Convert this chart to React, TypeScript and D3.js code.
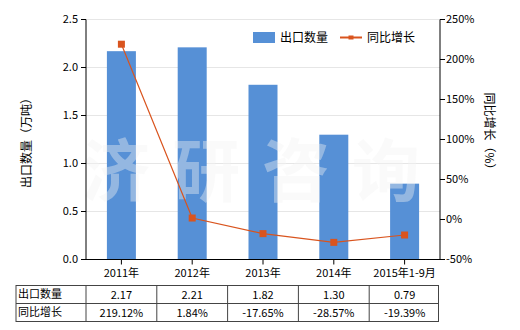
import React from "react";
import * as d3 from "d3";

const categories = ["2011年", "2012年", "2013年", "2014年", "2015年1-9月"];
const exportQty = [2.17, 2.21, 1.82, 1.3, 0.79];
const yoyGrowth = [219.12, 1.84, -17.65, -28.57, -19.39];
const qtyLabels = ["2.17", "2.21", "1.82", "1.30", "0.79"];
const growthLabels = ["219.12%", "1.84%", "-17.65%", "-28.57%", "-19.39%"];
const leftTicks = [0, 0.5, 1.0, 1.5, 2.0, 2.5];
const rightTicks = [-50, 0, 50, 100, 150, 200, 250];

const W = 520, H = 330;
const PL = 86, PR = 440, PT = 19.5, PB = 259.5;
const FONT = "'Microsoft YaHei', 'Noto Sans CJK SC', 'DejaVu Sans', sans-serif";
const BAR = "#5690D6";
const LINE = "#D9541E";

export default function App() {
  const x = d3.scaleBand<string>().domain(categories).range([PL, PR]).paddingInner(0).paddingOuter(0);
  const yL = d3.scaleLinear().domain([0, 2.5]).range([PB, PT]);
  const yR = d3.scaleLinear().domain([-50, 250]).range([PB, PT]);
  const bw = 29;
  const cx = (c: string) => (x(c) as number) + x.bandwidth() / 2;
  const line = d3.line<number>().x((_, i) => cx(categories[i])).y((d) => yR(d));

  const tableTop = 285.5, rowH = 18, tableLeft = 16, firstCol = PL;
  const colEdges = categories.map((c) => x(c) as number);

  return (
    <svg width={W} height={H} style={{ position: "absolute", left: 0, top: 0, fontFamily: FONT }}>
      <rect width={W} height={H} fill="#fff" />
      {leftTicks.map((t) => (
        <line key={t} x1={PL} x2={PR} y1={yL(t)} y2={yL(t)} stroke="#e6e6e6" strokeWidth={1} />
      ))}
      {exportQty.map((v, i) => (
        <rect key={i} x={cx(categories[i]) - bw / 2} y={yL(v)} width={bw} height={PB - yL(v)} fill={BAR} />
      ))}
      <text x={262} y={196} textAnchor="middle" fontSize={68} fontWeight="bold" fill="#f2f2f2" fillOpacity={0.4} letterSpacing={22}>济研咨询</text>
      <path d={line(yoyGrowth) as string} fill="none" stroke={LINE} strokeWidth={1.2} />
      {yoyGrowth.map((v, i) => (
        <rect key={i} x={cx(categories[i]) - 3.5} y={yR(v) - 3.5} width={7} height={7} fill={LINE} />
      ))}
      {/* left axis */}
      <line x1={PL} x2={PL} y1={PT} y2={PB} stroke="#000" />
      {leftTicks.map((t) => (
        <g key={t}>
          <line x1={PL - 5} x2={PL} y1={yL(t)} y2={yL(t)} stroke="#000" />
          <text x={PL - 8} y={yL(t)} dy="0.35em" textAnchor="end" fontSize={11} fill="#000">{t.toFixed(1)}</text>
        </g>
      ))}
      {/* right axis */}
      <line x1={PR} x2={PR} y1={PT} y2={PB} stroke="#000" />
      {rightTicks.map((t) => (
        <g key={t}>
          <line x1={PR} x2={PR + 5} y1={yR(t)} y2={yR(t)} stroke="#000" />
          <text x={PR + 6} y={yR(t)} dy="0.35em" textAnchor="start" fontSize={11} fill="#000">{t + "%"}</text>
        </g>
      ))}
      {/* bottom axis */}
      <line x1={PL} x2={PR} y1={PB} y2={PB} stroke="#000" />
      {categories.map((c) => (
        <g key={c}>
          <line x1={cx(c)} x2={cx(c)} y1={PB} y2={PB + 5} stroke="#000" />
          <text x={cx(c)} y={273} dy="0.35em" textAnchor="middle" fontSize={11} fill="#000">{c}</text>
        </g>
      ))}
      {/* axis titles */}
      <text transform="translate(27,140) rotate(-90)" textAnchor="middle" dy="0.35em" fontSize={12} fill="#000">出口数量（万吨）</text>
      <text transform="translate(489,134) rotate(90)" textAnchor="middle" dy="0.35em" fontSize={12} fill="#000">同比增长（%）</text>
      {/* legend */}
      <rect x={253} y={32} width={22} height={11} fill={BAR} />
      <text x={280} y={37.5} dy="0.35em" fontSize={12} fill="#000">出口数量</text>
      <line x1={340} x2={362} y1={37.5} y2={37.5} stroke={LINE} strokeWidth={2} />
      <rect x={348.5} y={35.5} width={5} height={4} fill={LINE} />
      <text x={367} y={37.5} dy="0.35em" fontSize={12} fill="#000">同比增长</text>
      {/* table */}
      <g stroke="#444" strokeWidth={1} fill="none">
        <rect x={tableLeft} y={tableTop} width={PR - 1.5 - tableLeft} height={rowH * 2} />
        <line x1={tableLeft} x2={PR - 1.5} y1={tableTop + rowH} y2={tableTop + rowH} />
        <line x1={firstCol} x2={firstCol} y1={tableTop} y2={tableTop + rowH * 2} />
        {colEdges.slice(1).map((e, i) => (
          <line key={i} x1={e} x2={e} y1={tableTop} y2={tableTop + rowH * 2} />
        ))}
      </g>
      <text x={tableLeft + 2} y={tableTop + rowH / 2} dy="0.35em" fontSize={11} fill="#000">出口数量</text>
      <text x={tableLeft + 2} y={tableTop + rowH * 1.5} dy="0.35em" fontSize={11} fill="#000">同比增长</text>
      {categories.map((c, i) => (
        <g key={c}>
          <text x={cx(c)} y={tableTop + rowH / 2 + 1} dy="0.35em" textAnchor="middle" fontSize={11} fill="#000">{qtyLabels[i]}</text>
          <text x={cx(c)} y={tableTop + rowH * 1.5 + 1} dy="0.35em" textAnchor="middle" fontSize={11} fill="#000">{growthLabels[i]}</text>
        </g>
      ))}
    </svg>
  );
}
